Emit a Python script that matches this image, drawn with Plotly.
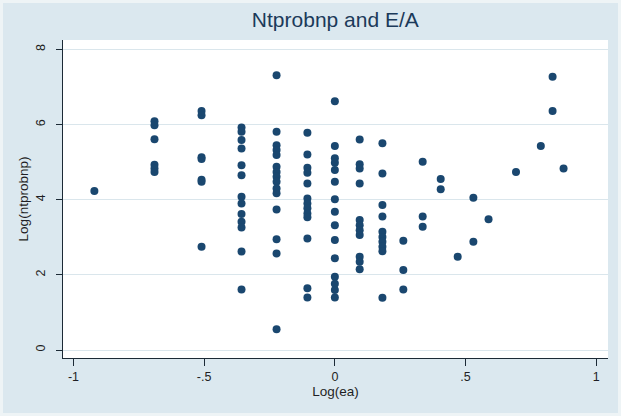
import plotly.graph_objects as go

# Log(E/A) value of each point (columns of discrete E/A ratios)
log_ea = (
    [-0.92]
    + [-0.69] * 6
    + [-0.51] * 7
    + [-0.357] * 13
    + [-0.223] * 15
    + [-0.105] * 13
    + [0.0] * 15
    + [0.095] * 11
    + [0.182] * 10
    + [0.262] * 3
    + [0.336] * 3
    + [0.405] * 2
    + [0.47]
    + [0.53] * 2
    + [0.588]
    + [0.693]
    + [0.788]
    + [0.833] * 2
    + [0.875]
)

# Log(ntprobnp) value of each point, same order
log_ntprobnp = [
    4.23,
    6.09, 5.98, 5.61, 4.93, 4.83, 4.74,
    6.36, 6.25, 5.13, 5.08, 4.53, 4.48, 2.75,
    5.92, 5.81, 5.59, 5.36, 4.92, 4.65, 4.08, 3.90, 3.62, 3.41, 3.26, 2.62, 1.61,
    7.31, 5.81, 5.45, 5.32, 5.19, 4.88, 4.74, 4.61, 4.48, 4.30, 4.17, 3.74, 2.95, 2.57, 0.55,
    5.78, 5.20, 4.85, 4.72, 4.43, 4.03, 3.90, 3.77, 3.63, 3.53, 2.97, 1.64, 1.40,
    6.62, 5.43, 5.10, 4.98, 4.79, 4.48, 4.01, 3.68, 3.32, 2.93, 2.44, 1.95, 1.76, 1.60, 1.40,
    5.60, 4.94, 4.83, 4.43, 3.46, 3.32, 3.19, 3.06, 2.48, 2.35, 2.15,
    5.50, 4.70, 3.86, 3.55, 3.15, 3.01, 2.88, 2.75, 2.63, 1.39,
    2.91, 2.13, 1.61,
    5.01, 3.55, 3.28,
    4.55, 4.28,
    2.48,
    4.05, 2.88,
    3.48,
    4.74,
    5.43,
    7.27, 6.36,
    4.83,
]

x_tickvals = [-1, -0.5, 0, 0.5, 1]
x_ticktext = ["-1", "-.5", "0", ".5", "1"]
y_tickvals = [0, 2, 4, 6, 8]
y_ticktext = ["0", "2", "4", "6", "8"]

NAVY = "#1a476f"
BG = "#dbe8ef"
GRID = "#dae6ec"
TXT = "#1f1f24"
FONT = "Liberation Sans, Arial, sans-serif"

fig = go.Figure()
fig.add_trace(go.Scatter(
    x=log_ea, y=log_ntprobnp, mode="markers",
    marker=dict(color=NAVY, size=8, line=dict(width=0)),
    showlegend=False, hoverinfo="x+y",
))

fig.update_layout(
    width=621, height=416,
    margin=dict(l=63, r=13, t=40, b=58),
    paper_bgcolor=BG,
    plot_bgcolor="white",
    font=dict(family=FONT, size=12, color=TXT),
    title=dict(text="Ntprobnp and E/A", x=0.54, xanchor="center",
               y=0.953, yanchor="middle", yref="container",
               font=dict(family=FONT, size=21, color="#1b3a5a")),
    xaxis=dict(
        range=[-1.04, 1.045], tickvals=x_tickvals, ticktext=x_ticktext,
        showgrid=False, zeroline=False,
        showline=True, linecolor="#1c2a36", linewidth=1.2,
        ticks="outside", ticklen=7, tickcolor="#1c2a36", tickwidth=1,
        ticklabelstandoff=0,
        tickfont=dict(size=12.5, color=TXT),
        title=dict(text="Log(ea)", standoff=2, font=dict(size=13.5, color=TXT)),
    ),
    yaxis=dict(
        range=[-0.213, 8.25], tickvals=y_tickvals, ticktext=y_ticktext,
        showgrid=True, gridcolor=GRID, gridwidth=1, zeroline=False,
        showline=True, linecolor="#1c2a36", linewidth=1.2,
        ticks="outside", ticklen=6, tickcolor="#1c2a36", tickwidth=1,
        tickangle=-90, ticklabelstandoff=6,
        tickfont=dict(size=12.5, color=TXT),
        title=dict(text="Log(ntprobnp)", standoff=2, font=dict(size=13.5, color=TXT)),
    ),
)

# light frame around the graph region
fig.add_shape(type="rect", xref="paper", yref="paper",
              x0=(1.5 - 63) / 545, x1=(619.5 - 63) / 545,
              y0=(358 - 414.5) / 318, y1=(358 - 1.5) / 318,
              line=dict(color="#eef4f6", width=3), fillcolor="rgba(0,0,0,0)",
              layer="below")

fig.write_html("out.html")
